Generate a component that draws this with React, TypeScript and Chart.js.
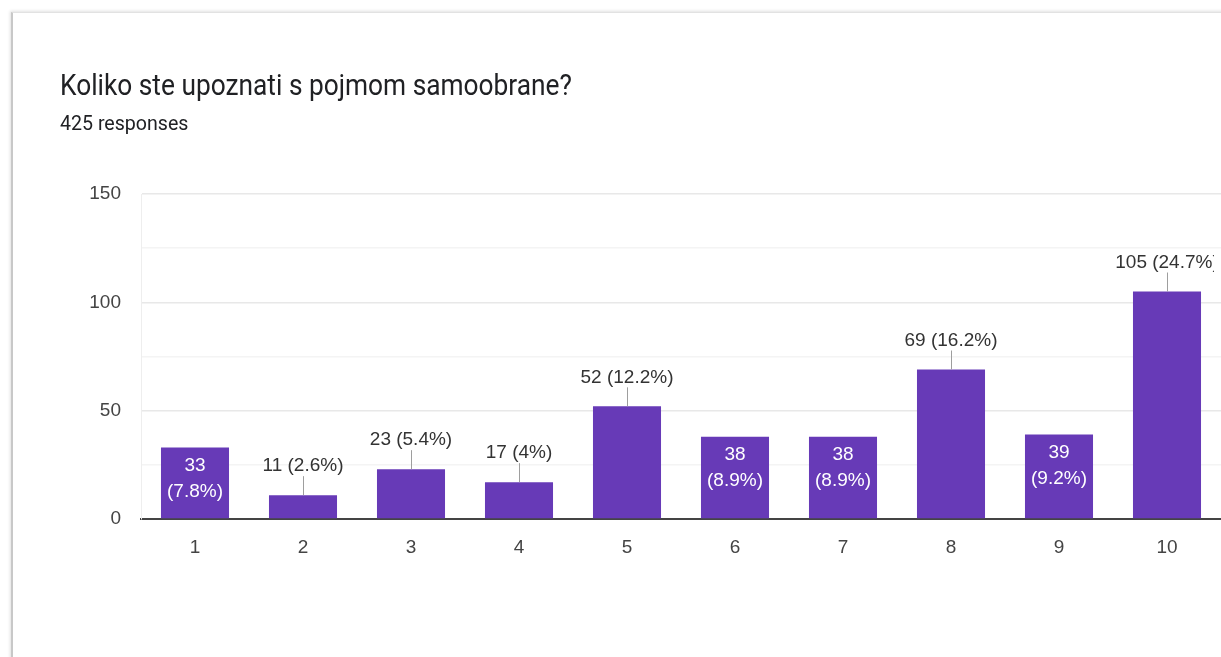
import React, { useEffect, useRef } from "react";
import { Chart, registerables } from "chart.js";

Chart.register(...registerables);

const categories = ["1", "2", "3", "4", "5", "6", "7", "8", "9", "10"];
const responses = [33, 11, 23, 17, 52, 38, 38, 69, 39, 105];
const labelInside = [true, false, false, false, false, true, true, false, true, false];
const yTickValues = [0, 50, 100, 150];
const titleText = "Koliko ste upoznati s pojmom samoobrane?";
const subtitleText = "425 responses";

const HEAD_FONT = "Roboto, 'Noto Sans', sans-serif";
const CHART_FONT = "'Liberation Sans', Arial, sans-serif";
const total = responses.reduce((a, b) => a + b, 0);

function pct(v: number): string {
  const p = Math.round((v / total) * 1000) / 10;
  const s = p.toFixed(1);
  return (s.endsWith(".0") ? s.slice(0, -2) : s) + "%";
}

const labelPlugin = {
  id: "barLabels",
  afterDatasetsDraw(chart: any) {
    const ctx = chart.ctx;
    const meta = chart.getDatasetMeta(0);
    ctx.save();
    ctx.beginPath();
    ctx.rect(0, 0, chart.width - 7, chart.height);
    ctx.clip();
    ctx.textAlign = "center";
    ctx.textBaseline = "middle";
    ctx.font = `19px ${CHART_FONT}`;
    meta.data.forEach((bar: any, i: number) => {
      const v = responses[i];
      const x = bar.x;
      const y = bar.y;
      if (labelInside[i]) {
        ctx.fillStyle = "#ffffff";
        ctx.fillText(String(v), x, y + 18);
        ctx.fillText(`(${pct(v)})`, x, y + 44);
      } else {
        ctx.strokeStyle = "#9e9e9e";
        ctx.lineWidth = 1;
        ctx.beginPath();
        ctx.moveTo(Math.round(x) + 0.5, y);
        ctx.lineTo(Math.round(x) + 0.5, y - 19);
        ctx.stroke();
        ctx.fillStyle = "#333333";
        ctx.fillText(`${v} (${pct(v)})`, x, y - 29);
      }
    });
    ctx.restore();
  },
};

export default function App() {
  const canvasRef = useRef<HTMLCanvasElement | null>(null);

  useEffect(() => {
    if (!canvasRef.current) return;
    const chart = new Chart(canvasRef.current, {
      type: "bar",
      data: {
        labels: categories,
        datasets: [
          {
            data: responses,
            backgroundColor: "#673ab7",
            borderWidth: 0,
            categoryPercentage: 1,
            barPercentage: 0.63,
          },
        ],
      },
      options: {
        responsive: false,
        animation: false,
        layout: { padding: { top: 194, right: 0, left: 0, bottom: 0 } },
        plugins: {
          legend: { display: false },
          tooltip: { enabled: false },
          title: { display: false },
        },
        scales: {
          x: {
            grid: { display: false },
            border: { display: true, color: "#444444", width: 2 },
            ticks: {
              font: { family: CHART_FONT, size: 19 },
              color: "#444444",
              padding: 9,
            },
            afterFit: (s: any) => {
              s.height = 138;
            },
          },
          y: {
            min: 0,
            max: 150,
            afterBuildTicks: (s: any) => {
              const t: any[] = [];
              for (let v = 0; v <= 150; v += 25) t.push({ value: v });
              s.ticks = t;
            },
            ticks: {
              font: { family: CHART_FONT, size: 19 },
              color: "#444444",
              padding: 20,
              callback: (v: any) => (yTickValues.includes(Number(v)) ? String(v) : ""),
            },
            grid: {
              drawTicks: false,
              color: (c: any) =>
                c.tick && yTickValues.includes(c.tick.value) ? "#e8e8e8" : "#f4f4f4",
              lineWidth: 1.5,
            },
            border: { display: true, color: "#eeeeee", width: 1 },
            afterFit: (s: any) => {
              s.width = 141;
            },
          },
        },
      },
      plugins: [labelPlugin],
    });
    return () => chart.destroy();
  }, []);

  return (
    <div
      style={{
        position: "absolute",
        left: 0,
        top: 0,
        width: 1221,
        height: 657,
        overflow: "hidden",
        background: "#ffffff",
      }}
    >
      <div
        style={{
          position: "absolute",
          left: 11,
          top: 12,
          width: 1240,
          height: 700,
          borderLeft: "2px solid #c8c8c8",
          borderTop: "1px solid #e2e2e2",
          boxShadow: "-1px -1px 3px rgba(0,0,0,0.12)",
          background: "#ffffff",
        }}
      />
      <canvas
        ref={canvasRef}
        width={1221}
        height={657}
        style={{ position: "absolute", left: 0, top: 0 }}
      />
      <div
        style={{
          position: "absolute",
          left: 60,
          top: 70,
          fontFamily: HEAD_FONT,
          fontSize: 26.3,
          lineHeight: "26.3px",
          color: "#202124",
          whiteSpace: "nowrap",
          transform: "scale(1, 1.12)",
          transformOrigin: "0 0",
        }}
      >
        {titleText}
      </div>
      <div
        style={{
          position: "absolute",
          left: 60,
          top: 113.5,
          fontFamily: HEAD_FONT,
          fontSize: 19.6,
          lineHeight: "19.6px",
          color: "#202124",
          whiteSpace: "nowrap",
        }}
      >
        {subtitleText}
      </div>
    </div>
  );
}
